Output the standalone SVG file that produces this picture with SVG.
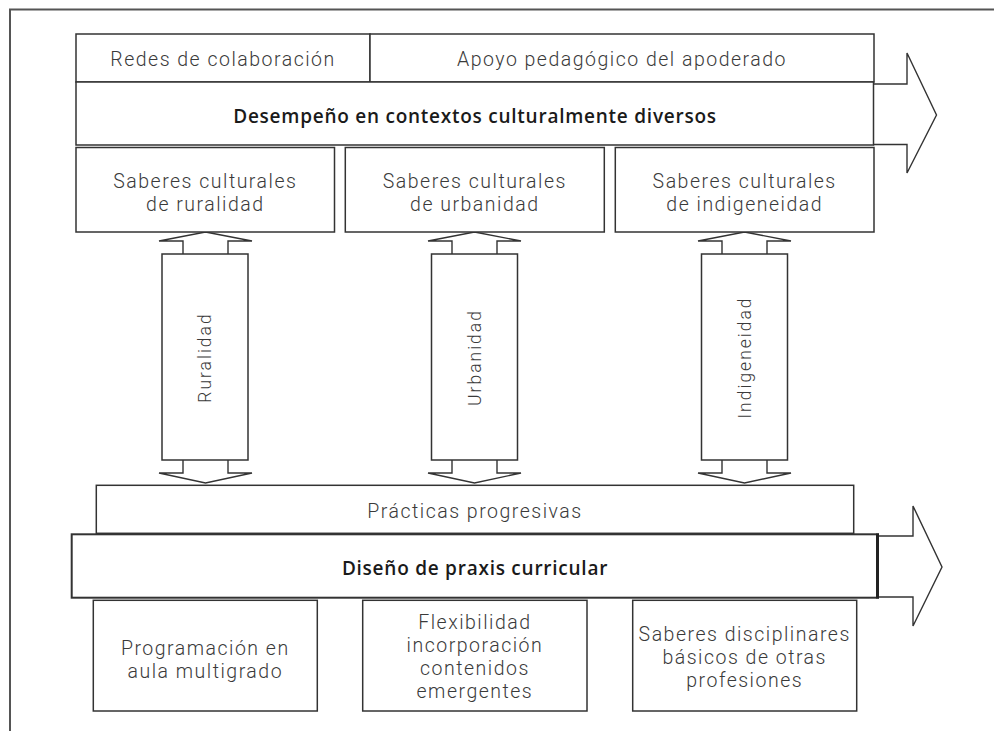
<svg xmlns="http://www.w3.org/2000/svg" width="994" height="731" viewBox="0 0 994 731">
<style>
.box{fill:#fff;stroke:#333;stroke-width:1.5}
.arr{fill:#fff;stroke:#333;stroke-width:1.4;stroke-linejoin:miter}
.t{font-family:Roboto,"Open Sans","Liberation Sans",sans-serif;font-weight:300;font-size:19.5px;letter-spacing:1.5px;fill:#3a3a3a;text-anchor:middle}
.v{font-family:Roboto,"Open Sans","Liberation Sans",sans-serif;font-weight:300;font-size:17.5px;letter-spacing:2px;fill:#3a3a3a;text-anchor:middle}
.b{font-family:"Open Sans","Liberation Sans",sans-serif;font-weight:600;font-size:19px;letter-spacing:0.75px;fill:#1a1a1a;text-anchor:middle}
</style>
<rect width="994" height="731" fill="#fff"/>
<g id="frame" fill="none" stroke="#555" stroke-width="2">
<path d="M10,731 V9.5 H994"/>
</g>
<g id="connectors">
<path class="arr" d="M873,84 H907 V53 L936.5,115 L907,173 V144.5 H873"/>
<path class="arr" d="M878,536 H913 V506 L942,567 L913,626 V597 H878"/>
<path class="arr" d="M205.5,232 L252,241 H228 V473 H252 L205.5,483 L159,473 H183 V241 H159 Z"/>
<path class="arr" d="M474.5,232 L521,241 H497 V473 H521 L474.5,483 L428,473 H452 V241 H428 Z"/>
<path class="arr" d="M744.5,232 L791,241 H767 V473 H791 L744.5,483 L698,473 H722 V241 H698 Z"/>
</g>
<g id="redes"><rect class="box" x="76" y="34" width="294" height="48"/><text class="t" x="223" y="66">Redes de colaboración</text></g>
<g id="apoyo"><rect class="box" x="370" y="34" width="504" height="48"/><text class="t" x="622" y="66">Apoyo pedagógico del apoderado</text></g>
<g id="desempeno"><rect class="box" x="76" y="82" width="797.5" height="63"/><text class="b" x="475" y="122.5">Desempeño en contextos culturalmente diversos</text></g>
<g id="saberes-ruralidad"><rect class="box" x="76" y="147.5" width="258.5" height="84.5"/><text class="t" x="205.3" y="188">Saberes culturales<tspan x="205.3" dy="23">de ruralidad</tspan></text></g>
<g id="saberes-urbanidad"><rect class="box" x="345.3" y="147.5" width="259" height="84.5"/><text class="t" x="474.8" y="188">Saberes culturales<tspan x="474.8" dy="23">de urbanidad</tspan></text></g>
<g id="saberes-indigeneidad"><rect class="box" x="615.3" y="147.5" width="258.7" height="84.5"/><text class="t" x="744.7" y="188">Saberes culturales<tspan x="744.7" dy="23">de indigeneidad</tspan></text></g>
<g id="ruralidad"><rect class="box" x="162" y="254" width="86" height="206"/><text class="v" transform="translate(211,357.5) rotate(-90)">Ruralidad</text></g>
<g id="urbanidad"><rect class="box" x="431.5" y="254" width="86" height="206"/><text class="v" transform="translate(480.5,357.5) rotate(-90)">Urbanidad</text></g>
<g id="indigeneidad"><rect class="box" x="701.5" y="254" width="86" height="206"/><text class="v" transform="translate(750.5,357.5) rotate(-90)">Indigeneidad</text></g>
<g id="practicas"><rect class="box" x="96.3" y="485.3" width="757.4" height="48"/><text class="t" x="475" y="518">Prácticas progresivas</text></g>
<g id="diseno"><rect class="box" x="71.7" y="534.3" width="806.3" height="63.4" style="stroke-width:2"/><path d="M877.5,533.5 V598.5" stroke="#222" stroke-width="3"/><text class="b" x="475" y="575">Diseño de praxis curricular</text></g>
<g id="programacion"><rect class="box" x="93.3" y="600.3" width="224" height="110.7"/><text class="t" x="205.3" y="655">Programación en<tspan x="205.3" dy="23">aula multigrado</tspan></text></g>
<g id="flexibilidad"><rect class="box" x="362.7" y="600.3" width="224.3" height="110.7"/><text class="t" x="474.9" y="629">Flexibilidad<tspan x="474.9" dy="23">incorporación</tspan><tspan x="474.9" dy="23">contenidos</tspan><tspan x="474.9" dy="23">emergentes</tspan></text></g>
<g id="saberes-disciplinares"><rect class="box" x="632.7" y="600.3" width="224" height="110.7"/><text class="t" x="744.7" y="641">Saberes disciplinares<tspan x="744.7" dy="23">básicos de otras</tspan><tspan x="744.7" dy="23">profesiones</tspan></text></g>
</svg>
